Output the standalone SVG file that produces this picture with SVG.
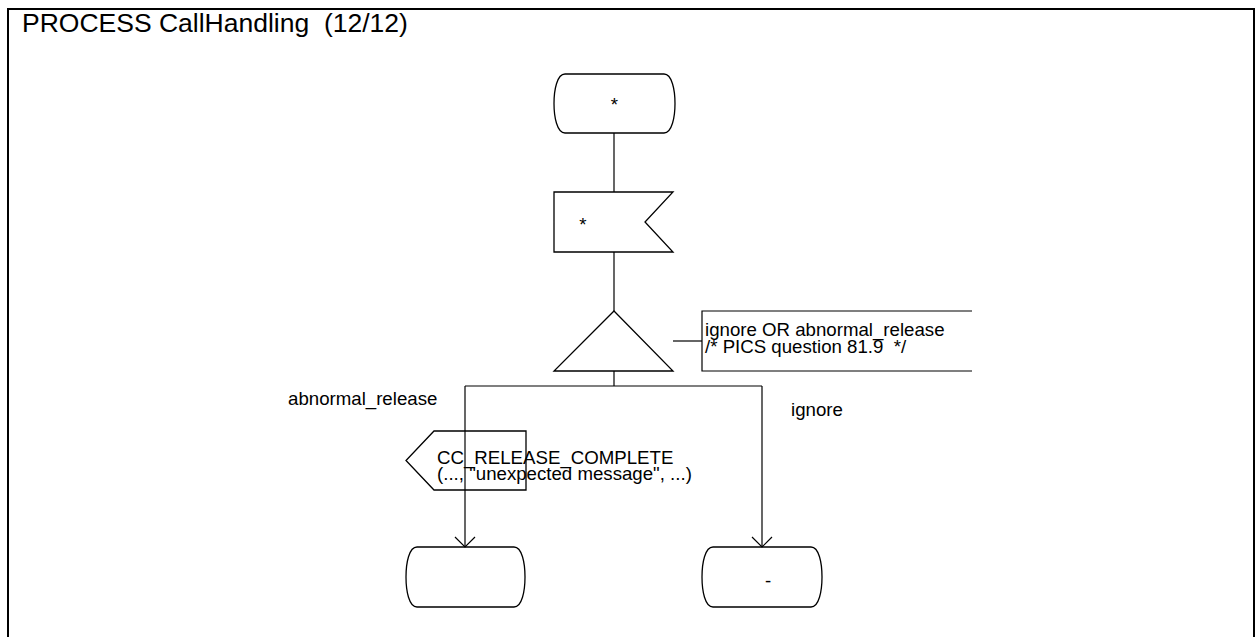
<svg xmlns="http://www.w3.org/2000/svg" width="1258" height="637" viewBox="0 0 1258 637">
  <style>
    .ln { fill: none; stroke: #000; stroke-width: 1.2; }
    .sym { fill: none; stroke: #000; stroke-width: 1.3; }
    .txt { font-family: "Liberation Sans", Arial, sans-serif; font-size: 18.67px; fill: #000; white-space: pre; }
    .title { font-family: "Liberation Sans", Arial, sans-serif; font-size: 26.5px; fill: #000; white-space: pre; }
  </style>
  <defs>
    <!-- open V arrowhead, drawn along +x so orient="auto" follows the line -->
    <marker id="openArrow" viewBox="0 0 12 22" refX="11" refY="11" markerWidth="12" markerHeight="22" markerUnits="userSpaceOnUse" orient="auto">
      <path d="M1,1 L11,11 L1,21" fill="none" stroke="#000" stroke-width="1.2"/>
    </marker>
  </defs>

  <rect x="0" y="0" width="1258" height="637" fill="#fff"/>

  <!-- page frame and heading -->
  <g id="frame">
    <path d="M8,700 V9 H1254 V700" fill="none" stroke="#000" stroke-width="2"/>
    <text class="title" x="22" y="32" xml:space="preserve">PROCESS CallHandling  (12/12)</text>
  </g>

  <!-- connectors -->
  <g id="connectors">
    <line class="ln" x1="614" y1="133" x2="614" y2="192"/>
    <line class="ln" x1="614" y1="252" x2="614" y2="311"/>
    <line class="ln" x1="614" y1="371" x2="614" y2="386"/>
    <line class="ln" x1="465" y1="386" x2="762" y2="386"/>
    <line class="ln" x1="465" y1="386" x2="465" y2="547" marker-end="url(#openArrow)"/>
    <line class="ln" x1="762" y1="386" x2="762" y2="547" marker-end="url(#openArrow)"/>
    <line class="ln" x1="673" y1="341" x2="702" y2="341"/>
    <text class="txt" x="288" y="405">abnormal_release</text>
    <text class="txt" x="791" y="416">ignore</text>
  </g>

  <!-- start state -->
  <g id="state-any">
    <path class="sym" d="M565,74 H664 C672,74 675,90 675,103.5 C675,117 672,133 664,133 H565 C557,133 554,117 554,103.5 C554,90 557,74 565,74 Z"/>
    <text class="txt" x="614.5" y="111" text-anchor="middle">*</text>
  </g>

  <!-- input of any signal -->
  <g id="input-any">
    <path class="sym" d="M554,192 H673 L645,222 L673,252 H554 Z"/>
    <text class="txt" x="583" y="231" text-anchor="middle">*</text>
  </g>

  <!-- decision -->
  <g id="decision">
    <path class="sym" d="M614,311 L673,371 H554 Z"/>
  </g>

  <!-- comment on the decision -->
  <g id="comment">
    <path class="ln" d="M972,311 H702 V371 H972"/>
    <text class="txt" x="705" y="336">ignore OR abnormal_release</text>
    <text class="txt" x="705" y="353" xml:space="preserve">/* PICS question 81.9  */</text>
  </g>

  <!-- output signal -->
  <g id="output-release">
    <path class="sym" d="M434,431 H526 V490 H434 L406,460.5 Z"/>
    <text class="txt" x="437" y="464">CC_RELEASE_COMPLETE</text>
    <text class="txt" x="437" y="480">(..., "unexpected message", ...)</text>
  </g>

  <!-- next states -->
  <g id="state-end-left">
    <path class="sym" d="M417,547 H514 C522,547 525,563 525,577 C525,591 522,607 514,607 H417 C409,607 406,591 406,577 C406,563 409,547 417,547 Z"/>
  </g>
  <g id="state-end-right">
    <path class="sym" d="M713,547 H811 C819,547 822,563 822,577 C822,591 819,607 811,607 H713 C705,607 702,591 702,577 C702,563 705,547 713,547 Z"/>
    <text class="txt" x="768" y="587" text-anchor="middle">-</text>
  </g>
</svg>
